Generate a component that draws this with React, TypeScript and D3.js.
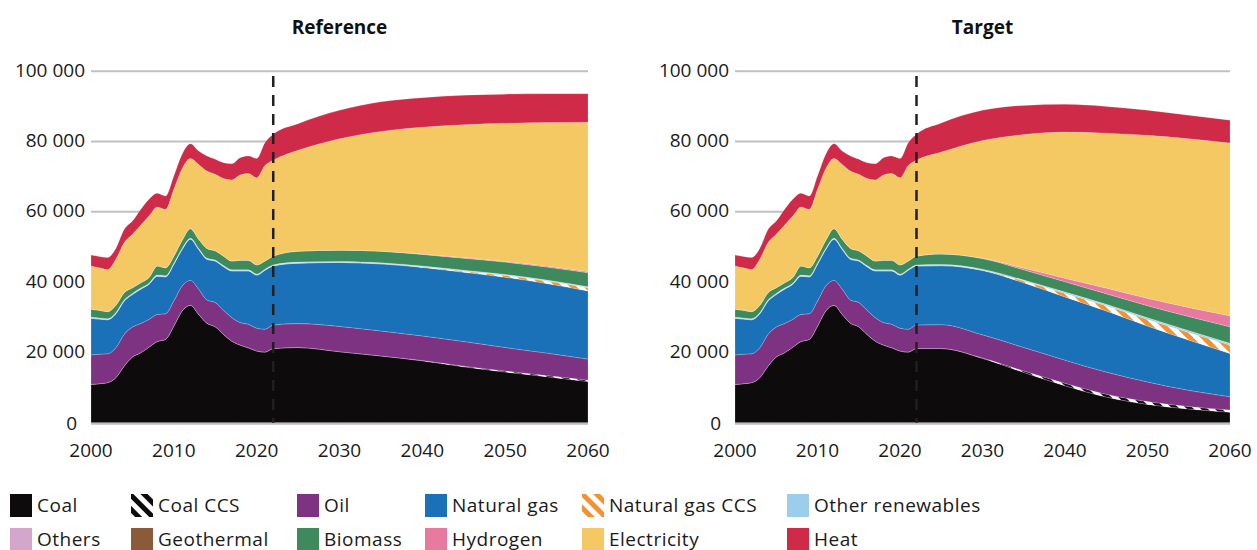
import React, { useRef, useEffect } from 'react';
import * as d3 from 'd3';

// values in thousands
const histYears = [2000, 2001, 2002, 2003, 2004, 2005, 2006, 2007, 2008, 2009, 2010, 2011,
  2012, 2013, 2014, 2015, 2016, 2017, 2018, 2019, 2020, 2021, 2022];
const histCoal = [10.9, 11.1, 11.4, 12.8, 16.1, 18.7, 19.9, 21.5, 23.1, 23.7, 27.5, 31.8,
  33.4, 30.8, 28.3, 27.3, 25.1, 23.2, 22.1, 21.3, 20.4, 20.1, 21.1];
const histOil = [8.4, 8.4, 8.2, 8.5, 9.0, 8.5, 8.3, 7.9, 7.7, 7.3, 7.1, 7.1,
  7.1, 7.2, 6.6, 6.9, 6.9, 6.7, 6.4, 6.7, 6.5, 6.5, 6.7];
const histGas = [10.4, 10.0, 9.7, 9.7, 9.5, 9.3, 9.8, 10.0, 10.9, 10.5, 10.5, 10.4,
  11.7, 11.3, 11.6, 11.8, 12.4, 13.3, 14.7, 15.2, 15.1, 16.8, 16.8];
const histRenew = [0.3, 0.3, 0.3, 0.3, 0.3, 0.3, 0.3, 0.3, 0.3, 0.3, 0.3, 0.3,
  0.3, 0.3, 0.3, 0.3, 0.3, 0.3, 0.3, 0.3, 0.3, 0.3, 0.3];
const histBiomass = [2.3, 2.2, 2.0, 2.1, 2.1, 1.6, 1.5, 1.6, 2.6, 2.3, 2.0, 2.3,
  2.7, 2.6, 2.8, 2.6, 2.7, 2.5, 2.7, 2.7, 2.6, 2.3, 2.5];
const histElec = [12.3, 12.1, 12.0, 13.1, 14.2, 15.2, 16.4, 17.5, 16.8, 16.6, 19.0, 20.4,
  20.0, 21.3, 22.0, 21.8, 22.1, 23.1, 24.3, 24.7, 24.8, 27.2, 27.3];
const histHeat = [3.1, 3.2, 3.4, 3.1, 3.8, 3.8, 4.5, 4.8, 3.9, 3.8, 3.8, 4.1,
  4.2, 3.8, 4.3, 4.3, 4.5, 4.6, 4.9, 5.0, 5.5, 6.5, 7.4];

const projYears = [2025, 2030, 2035, 2040, 2045, 2050, 2055, 2060];

const refCoal = [21.4, 20.2, 19.0, 17.6, 15.9, 14.4, 13.1, 11.7];
const refCoalCCS = [0, 0, 0, 0.1, 0.2, 0.3, 0.3, 0.4];
const refOil = [6.8, 7.2, 7.1, 7.0, 7.0, 6.7, 6.4, 6.0];
const refGas = [17.2, 18.2, 19.1, 19.5, 19.7, 20.0, 19.8, 19.4];
const refGasCCS = [0, 0, 0, 0.1, 0.3, 0.5, 0.7, 0.9];
const refRenew = [0.3, 0.3, 0.3, 0.3, 0.3, 0.3, 0.3, 0.3];
const refBiomass = [3.1, 3.2, 3.3, 3.3, 3.4, 3.5, 3.7, 4.0];
const refHydrogen = [0, 0, 0, 0.1, 0.2, 0.2, 0.3, 0.3];
const refElec = [28.7, 31.7, 34.1, 36.1, 37.8, 39.3, 40.8, 42.5];
const refHeat = [7.6, 8.1, 8.4, 8.4, 8.4, 8.3, 8.2, 8.1];

const tgtCoal = [21.1, 18.3, 14.3, 10.5, 7.3, 5.2, 3.9, 3.0];
const tgtCoalCCS = [0, 0.1, 0.4, 0.7, 0.8, 0.8, 0.7, 0.6];
const tgtOil = [6.8, 6.6, 6.7, 6.6, 6.3, 5.6, 4.6, 3.8];
const tgtGas = [16.8, 18.3, 18.4, 18.0, 17.4, 15.9, 14.3, 12.3];
const tgtGasCCS = [0, 0.1, 0.5, 1.0, 1.5, 1.9, 2.2, 2.4];
const tgtRenew = [0.3, 0.3, 0.3, 0.4, 0.4, 0.5, 0.5, 0.5];
const tgtBiomass = [3.0, 3.0, 2.9, 2.9, 3.0, 3.4, 4.0, 4.7];
const tgtHydrogen = [0, 0.1, 0.5, 1.0, 1.6, 2.1, 2.6, 3.1];
const tgtElec = [29.0, 33.5, 38.0, 41.6, 44.1, 46.4, 48.0, 49.2];
const tgtHeat = [8.3, 8.6, 8.3, 7.9, 7.6, 7.1, 6.7, 6.5];

const xTicks = [2000, 2010, 2020, 2030, 2040, 2050, 2060];
const yTicks = [0, 20, 40, 60, 80, 100];
const yTickLabels = ['0', '20 000', '40 000', '60 000', '80 000', '100 000'];
const baseYear = 2022;

const keys = ['coal', 'coalCCS', 'oil', 'gas', 'gasCCS', 'renew', 'others', 'geothermal',
  'biomass', 'hydrogen', 'elec', 'heat'];
const labels = ['Coal', 'Coal CCS', 'Oil', 'Natural gas', 'Natural gas CCS', 'Other renewables',
  'Others', 'Geothermal', 'Biomass', 'Hydrogen', 'Electricity', 'Heat'];
const colors: Record<string, string> = {
  coal: '#0d0b0c', coalCCS: 'url(#hatchCoal)', oil: '#7e3282', gas: '#1b71b8',
  gasCCS: 'url(#hatchGas)', renew: '#9ccdec', others: '#d5a6cc', geothermal: '#8b5a38',
  biomass: '#3f8a5c', hydrogen: '#e97a9f', elec: '#f4c964', heat: '#cf2a47',
};

function buildRows(p: Record<string, number[]>) {
  const rows: any[] = [];
  histYears.forEach((yr, i) => rows.push({
    year: yr, coal: histCoal[i], coalCCS: 0, oil: histOil[i], gas: histGas[i], gasCCS: 0,
    renew: histRenew[i], others: 0, geothermal: 0, biomass: histBiomass[i], hydrogen: 0,
    elec: histElec[i], heat: histHeat[i],
  }));
  projYears.forEach((yr, i) => {
    const r: any = { year: yr, others: 0, geothermal: 0 };
    Object.keys(p).forEach(k => { r[k] = p[k][i]; });
    rows.push(r);
  });
  return rows;
}

const refRows = buildRows({ coal: refCoal, coalCCS: refCoalCCS, oil: refOil, gas: refGas,
  gasCCS: refGasCCS, renew: refRenew, biomass: refBiomass, hydrogen: refHydrogen,
  elec: refElec, heat: refHeat });
const tgtRows = buildRows({ coal: tgtCoal, coalCCS: tgtCoalCCS, oil: tgtOil, gas: tgtGas,
  gasCCS: tgtGasCCS, renew: tgtRenew, biomass: tgtBiomass, hydrogen: tgtHydrogen,
  elec: tgtElec, heat: tgtHeat });

const FONT = '"Open Sans", sans-serif';

const App = () => {
  const ref = useRef<HTMLDivElement>(null);

  useEffect(() => {
    document.body.style.margin = '0';
    d3.select(ref.current).select('svg').remove();

    const svg = d3.select(ref.current)
      .append('svg')
      .attr('width', 1257)
      .attr('height', 550)
      .style('font-family', FONT);

    const defs = svg.append('defs');
    const hatch = (id: string, color: string) => {
      const p = defs.append('pattern')
        .attr('id', id)
        .attr('patternUnits', 'userSpaceOnUse')
        .attr('width', 10).attr('height', 10)
        .attr('patternTransform', 'rotate(-45)');
      p.append('rect').attr('width', 10).attr('height', 10).attr('fill', '#fff');
      p.append('rect').attr('width', 5).attr('height', 10).attr('fill', color);
    };
    hatch('hatchCoal', '#0d0b0c');
    hatch('hatchGas', '#f39230');

    const y = d3.scaleLinear().domain([0, 100]).range([422.7, 71.3]);
    const stack = d3.stack().keys(keys);

    const drawPanel = (rows: any[], x0: number, x1: number, title: string) => {
      const x = d3.scaleLinear().domain([2000, 2060]).range([x0, x1]);
      const g = svg.append('g');

      // gridlines
      yTicks.filter(v => v > 0).forEach(v => {
        g.append('line')
          .attr('x1', x0).attr('x2', x1)
          .attr('y1', y(v)).attr('y2', y(v))
          .attr('stroke', '#bfc0c3').attr('stroke-width', 2);
      });

      const series = stack(rows);
      const area = d3.area<any>()
        .x(d => x(d.data.year))
        .y0(d => y(d[0]))
        .y1(d => y(d[1]))
        .curve(d3.curveMonotoneX);

      g.selectAll('path.layer')
        .data(series)
        .enter()
        .append('path')
        .attr('class', 'layer')
        .attr('d', d => area(d as any))
        .attr('fill', d => colors[d.key])
        .attr('stroke', 'rgba(255,255,255,0.3)')
        .attr('stroke-width', 0.6);

      // baseline
      g.append('line')
        .attr('x1', x0).attr('x2', x1)
        .attr('y1', y(0) + 1).attr('y2', y(0) + 1)
        .attr('stroke', '#bcbdc0').attr('stroke-width', 2);

      // base year marker
      g.append('line')
        .attr('x1', x(baseYear)).attr('x2', x(baseYear))
        .attr('y1', 76).attr('y2', y(0))
        .attr('stroke', '#231f20').attr('stroke-width', 2.5)
        .attr('stroke-dasharray', '11 8');

      yTicks.forEach((v, i) => {
        g.append('text')
          .attr('x', v === 0 ? x0 - 14 : x0 - 6)
          .attr('y', y(v) - (v === 0 ? 0 : 1.5))
          .attr('text-anchor', 'end')
          .attr('dominant-baseline', 'central')
          .style('font-size', '19px')
          .attr('fill', '#1a1a1a')
          .text(yTickLabels[i]);
      });

      xTicks.forEach(t => {
        g.append('text')
          .attr('x', x(t))
          .attr('y', 450)
          .attr('text-anchor', 'middle')
          .attr('dominant-baseline', 'central')
          .style('font-size', '19px')
          .attr('fill', '#1a1a1a')
          .text(t);
      });

      g.append('text')
        .attr('x', (x0 + x1) / 2)
        .attr('y', 27)
        .attr('text-anchor', 'middle')
        .attr('dominant-baseline', 'central')
        .style('font-size', '19px')
        .style('font-weight', 'bold')
        .attr('fill', '#111')
        .text(title);
    };

    drawPanel(refRows, 91, 588, 'Reference');
    drawPanel(tgtRows, 735, 1230, 'Target');

    // legend
    const colX = [10, 131, 297, 425, 582, 787];
    const rowY = [494, 528];
    const lg = svg.append('g');
    keys.forEach((k, i) => {
      const sx = colX[i % 6];
      const sy = rowY[Math.floor(i / 6)];
      lg.append('rect')
        .attr('x', sx).attr('y', sy)
        .attr('width', 22).attr('height', 23)
        .attr('fill', colors[k]);
      lg.append('text')
        .attr('x', sx + 27)
        .attr('y', sy + 11)
        .attr('dominant-baseline', 'central')
        .style('font-size', '19px')
        .style('letter-spacing', '0.5px')
        .attr('fill', '#1a1a1a')
        .text(labels[i]);
    });
  }, []);

  return <div ref={ref} />;
};

export default App;
